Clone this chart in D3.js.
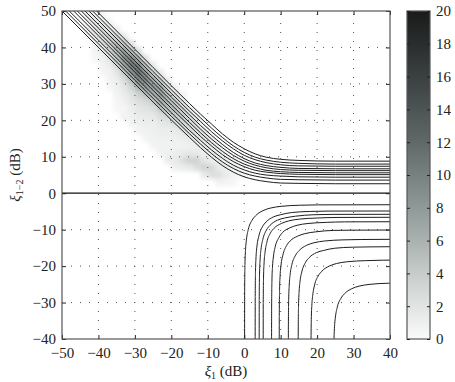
<!DOCTYPE html>
<html>
<head>
<meta charset="utf-8">
<script src="https://cdn.jsdelivr.net/npm/d3@7"></script>
<style>
body { margin: 0; background: #fff; }
text { font-family: "Liberation Serif", "DejaVu Serif", serif; fill: #222; }
</style>
</head>
<body>
<svg id="chart" width="455" height="382"></svg>
<script>
// Tick values
const xTicks = [-50, -40, -30, -20, -10, 0, 10, 20, 30, 40];
const yTicks = [-40, -30, -20, -10, 0, 10, 20, 30, 40, 50];
const cbTicks = [0, 2, 4, 6, 8, 10, 12, 14, 16, 18, 20];

// Upper family of contours: shared x positions, one y series per curve
const upperX = [-50, -40, -30, -20, -15, -12, -9, -6, -3, 0, 3, 6, 10, 15, 25, 40];
const upperY = [
    [50.0, 40.0, 30.0, 20.1, 15.3, 12.5, 9.9, 7.6, 5.8, 4.5, 3.7, 3.2, 2.8, 2.7, 2.6, 2.6],
    [51.0, 41.0, 31.0, 21.1, 16.3, 13.5, 10.9, 8.6, 6.8, 5.5, 4.7, 4.2, 3.8, 3.7, 3.6, 3.6],
    [52.0, 42.0, 32.0, 22.1, 17.2, 14.5, 11.9, 9.6, 7.7, 6.4, 5.5, 5.0, 4.7, 4.5, 4.4, 4.4],
    [53.2, 43.2, 33.2, 23.3, 18.5, 15.6, 13.0, 10.6, 8.7, 7.3, 6.3, 5.8, 5.4, 5.2, 5.1, 5.1],
    [54.2, 44.2, 34.2, 24.3, 19.4, 16.6, 13.9, 11.5, 9.5, 8.0, 7.0, 6.3, 5.9, 5.7, 5.6, 5.6],
    [55.3, 45.3, 35.3, 25.4, 20.5, 17.6, 14.9, 12.5, 10.4, 8.8, 7.7, 7.0, 6.5, 6.3, 6.2, 6.2],
    [56.3, 46.3, 36.3, 26.4, 21.5, 18.6, 15.9, 13.4, 11.2, 9.5, 8.3, 7.6, 7.1, 6.8, 6.7, 6.7],
    [57.4, 47.4, 37.4, 27.4, 22.5, 19.7, 16.9, 14.4, 12.2, 10.4, 9.2, 8.4, 7.8, 7.5, 7.4, 7.4],
    [58.4, 48.4, 38.4, 28.4, 23.5, 20.7, 17.9, 15.3, 13.0, 11.2, 9.9, 9.1, 8.5, 8.2, 8.0, 8.0],
    [59.5, 49.5, 39.5, 29.5, 24.6, 21.7, 19.0, 16.3, 14.0, 12.2, 10.8, 9.9, 9.3, 9.0, 8.8, 8.8]
];

// Lower family of contours: [x, y] points per curve
const lowerCurves = [
    [[0.1, -45], [0.12, -26.6], [0.2, -19.6], [0.35, -15.7], [0.6, -12.8], [1.1, -10.0], [2.1, -7.5], [3.1, -6.2], [5.1, -4.8], [7.1, -4.1], [10.1, -3.6], [15.1, -3.3], [20.1, -3.2], [40, -3.16]],
    [[3.0, -45], [3.02, -28.3], [3.1, -21.3], [3.25, -17.4], [3.5, -14.5], [4.0, -11.8], [5.0, -9.2], [6.0, -7.9], [8.0, -6.5], [10.0, -5.9], [13.0, -5.3], [18.0, -5.0], [23.0, -4.9], [40, -4.88]],
    [[4.1, -45], [4.12, -29.2], [4.2, -22.2], [4.35, -18.3], [4.6, -15.4], [5.1, -12.7], [6.1, -10.1], [7.1, -8.8], [9.1, -7.4], [11.1, -6.8], [14.1, -6.3], [19.1, -5.9], [24.1, -5.8], [40, -5.79]],
    [[5.2, -45], [5.22, -30.0], [5.3, -23.0], [5.45, -19.1], [5.7, -16.3], [6.2, -13.5], [7.2, -10.9], [8.2, -9.6], [10.2, -8.3], [12.2, -7.6], [15.2, -7.1], [20.2, -6.8], [25.2, -6.65], [40, -6.61]],
    [[7.5, -45], [7.52, -31.2], [7.6, -24.2], [7.75, -20.3], [8.0, -17.5], [8.5, -14.7], [9.5, -12.2], [10.5, -10.8], [12.5, -9.5], [14.5, -8.8], [17.5, -8.3], [22.5, -8.0], [27.5, -7.86], [40, -7.82]],
    [[9.6, -45], [9.62, -33.5], [9.7, -26.5], [9.85, -22.6], [10.1, -19.7], [10.6, -17.0], [11.6, -14.4], [12.6, -13.1], [14.6, -11.8], [16.6, -11.1], [19.6, -10.6], [24.6, -10.2], [29.6, -10.14], [40, -10.1]],
    [[12.1, -45], [12.12, -36.1], [12.2, -29.1], [12.35, -25.2], [12.6, -22.3], [13.1, -19.5], [14.1, -17.0], [15.1, -15.7], [17.1, -14.3], [19.1, -13.6], [22.1, -13.1], [27.1, -12.8], [32.1, -12.7], [40, -12.65]],
    [[14.8, -45], [14.82, -38.1], [14.9, -31.1], [15.05, -27.2], [15.3, -24.3], [15.8, -21.6], [16.8, -19.0], [17.8, -17.7], [19.8, -16.3], [21.8, -15.7], [24.8, -15.1], [29.8, -14.8], [34.8, -14.72], [40, -14.68]],
    [[18.3, -45], [18.32, -41.7], [18.4, -34.7], [18.55, -30.8], [18.8, -28.0], [19.3, -25.2], [20.3, -22.7], [21.3, -21.4], [23.3, -20.0], [25.3, -19.3], [28.3, -18.8], [33.3, -18.5], [38.3, -18.37], [40, -18.36]],
    [[24.5, -45], [24.6, -41.0], [24.75, -37.1], [25.0, -34.2], [25.5, -31.4], [26.5, -28.9], [27.5, -27.6], [29.5, -26.2], [31.5, -25.5], [34.5, -25.0], [39.5, -24.7], [40, -24.69]]
];

// 2-D histogram, 2 dB bins: [bin centre x, bin centre y, count]
const heatCells = [
    [-43, 49, 0.9], [-43, 47, 1], [-43, 45, 0.8], [-43, 43, 0.5],
    [-41, 49, 1], [-41, 47, 1.8], [-41, 45, 2], [-41, 43, 1.6], [-41, 41, 1], [-41, 39, 0.6], [-41, 37, 0.4],
    [-39, 49, 0.6], [-39, 47, 1.5], [-39, 45, 2.7], [-39, 43, 3], [-39, 41, 2.4], [-39, 39, 1.5], [-39, 37, 0.9], [-39, 35, 0.6], [-39, 33, 0.4],
    [-37, 47, 0.8], [-37, 45, 2], [-37, 43, 3.6], [-37, 41, 4], [-37, 39, 3.2], [-37, 37, 2], [-37, 35, 1.2], [-37, 33, 0.8], [-37, 31, 0.6], [-37, 29, 0.4],
    [-35, 45, 1.2], [-35, 43, 3], [-35, 41, 5.4], [-35, 39, 6], [-35, 37, 4.8], [-35, 35, 3], [-35, 33, 1.8], [-35, 31, 1.2], [-35, 29, 0.9], [-35, 27, 0.6], [-35, 25, 0.4], [-35, 23, 0.4],
    [-33, 43, 1.8], [-33, 41, 4.5], [-33, 39, 8.1], [-33, 37, 9], [-33, 35, 7.2], [-33, 33, 4.5], [-33, 31, 2.7], [-33, 29, 1.8], [-33, 27, 1.4], [-33, 25, 0.9], [-33, 23, 0.5], [-33, 21, 0.8],
    [-31, 41, 2.2], [-31, 39, 5.5], [-31, 37, 9.9], [-31, 35, 11], [-31, 33, 8.8], [-31, 31, 5.5], [-31, 29, 3.3], [-31, 27, 2.2], [-31, 25, 1.7], [-31, 23, 1.1], [-31, 21, 0.9], [-31, 19, 0.7],
    [-29, 39, 2.4], [-29, 37, 6], [-29, 35, 10.8], [-29, 33, 12], [-29, 31, 9.6], [-29, 29, 6], [-29, 27, 3.6], [-29, 25, 2.4], [-29, 23, 1.8], [-29, 21, 1.4], [-29, 19, 0.9], [-29, 17, 0.6],
    [-27, 37, 2], [-27, 35, 5], [-27, 33, 9], [-27, 31, 10], [-27, 29, 8], [-27, 27, 5], [-27, 25, 3], [-27, 23, 2], [-27, 21, 1.5], [-27, 19, 1.2], [-27, 17, 0.8], [-27, 15, 0.6],
    [-25, 35, 1.6], [-25, 33, 4], [-25, 31, 7.2], [-25, 29, 8], [-25, 27, 6.4], [-25, 25, 4], [-25, 23, 2.4], [-25, 21, 1.6], [-25, 19, 1.2], [-25, 17, 1], [-25, 15, 0.8], [-25, 13, 0.7],
    [-23, 33, 1.6], [-23, 31, 4], [-23, 29, 7.2], [-23, 27, 8], [-23, 25, 6.4], [-23, 23, 4], [-23, 21, 2.4], [-23, 19, 1.6], [-23, 17, 1.2], [-23, 15, 1], [-23, 13, 0.8], [-23, 11, 0.8],
    [-21, 31, 1.2], [-21, 29, 3], [-21, 27, 5.4], [-21, 25, 6], [-21, 23, 4.8], [-21, 21, 3], [-21, 19, 1.8], [-21, 17, 1.2], [-21, 15, 0.9], [-21, 13, 0.8], [-21, 11, 1], [-21, 9, 1.2],
    [-19, 29, 1], [-19, 27, 2.5], [-19, 25, 4.5], [-19, 23, 5], [-19, 21, 4], [-19, 19, 2.5], [-19, 17, 1.5], [-19, 15, 1], [-19, 13, 0.8], [-19, 11, 1.2], [-19, 9, 1.5], [-19, 7, 1],
    [-17, 27, 0.8], [-17, 25, 2], [-17, 23, 3.6], [-17, 21, 4], [-17, 19, 3.2], [-17, 17, 2], [-17, 15, 1.2], [-17, 13, 0.8], [-17, 11, 1.5], [-17, 9, 2.5], [-17, 7, 1.2],
    [-15, 23, 1.5], [-15, 21, 2.7], [-15, 19, 3], [-15, 17, 2.4], [-15, 15, 1.5], [-15, 13, 0.9], [-15, 11, 1.8], [-15, 9, 3.5], [-15, 7, 1.5],
    [-13, 21, 1.2], [-13, 19, 2.2], [-13, 17, 2.5], [-13, 15, 2], [-13, 13, 1.3], [-13, 11, 1.5], [-13, 9, 3.5], [-13, 7, 2.5],
    [-11, 17, 1.8], [-11, 15, 2], [-11, 13, 1.6], [-11, 11, 1.2], [-11, 9, 2], [-11, 7, 3.5], [-11, 5, 1.5],
    [-9, 15, 1.2], [-9, 13, 1.5], [-9, 11, 1.4], [-9, 9, 1.2], [-9, 7, 3], [-9, 5, 2.5],
    [-7, 13, 1], [-7, 11, 1.2], [-7, 9, 1.2], [-7, 7, 1.5], [-7, 5, 2.5], [-7, 3, 0.8],
    [-5, 11, 0.8], [-5, 9, 1], [-5, 7, 1], [-5, 5, 1.5], [-5, 3, 0.6],
    [-3, 9, 0.6], [-3, 7, 0.8], [-3, 5, 0.9], [-3, 3, 0.5],
    [-1, 7, 0.5], [-1, 5, 0.6], [1, 5, 0.4]
];

// colour map of the colour bar (value -> grey)
const cmapValues = [0, 2, 4, 6, 8, 10, 12, 14, 16, 18, 20];
const cmapColors = ["#fafafa", "#e1e4e3", "#c7cccb", "#aab2b0", "#8f9a98", "#77817f", "#606968", "#4c5454", "#3b4041", "#2a2d2e", "#1a1a1a"];

const svg = d3.select('#chart');
const plotL = 62, plotR = 390, plotT = 11, plotB = 339;

const x = d3.scaleLinear().domain([-50, 40]).range([plotL, plotR]);
const y = d3.scaleLinear().domain([-40, 50]).range([plotB, plotT]);
const color = d3.scaleLinear().domain(cmapValues).range(cmapColors);

const defs = svg.append('defs');
defs.append('clipPath').attr('id', 'plotClip')
    .append('rect')
    .attr('x', plotL).attr('y', plotT)
    .attr('width', plotR - plotL).attr('height', plotB - plotT);
defs.append('filter').attr('id', 'soft')
    .attr('x', '-20%').attr('y', '-20%').attr('width', '140%').attr('height', '140%')
    .append('feGaussianBlur').attr('stdDeviation', 2.2);

const plot = svg.append('g').attr('clip-path', 'url(#plotClip)');

// heat map
plot.append('g')
    .attr('filter', 'url(#soft)')
    .selectAll('rect')
    .data(heatCells).enter()
    .append('rect')
    .attr('x', d => x(d[0] - 1))
    .attr('y', d => y(d[1] + 1))
    .attr('width', d => x(d[0] + 1) - x(d[0] - 1))
    .attr('height', d => y(d[1] - 1) - y(d[1] + 1))
    .attr('fill', d => color(d[2]));

// dotted grid
const grid = plot.append('g')
    .attr('stroke', '#555')
    .attr('stroke-width', 1)
    .attr('stroke-dasharray', '1,8');
grid.selectAll('.gx')
    .data(xTicks.slice(1, -1)).enter()
    .append('line')
    .attr('x1', d => x(d)).attr('x2', d => x(d))
    .attr('y1', plotB).attr('y2', plotT);
grid.selectAll('.gy')
    .data(yTicks.slice(1, -1).filter(d => d !== 0)).enter()
    .append('line')
    .attr('y1', d => y(d)).attr('y2', d => y(d))
    .attr('x1', plotL).attr('x2', plotR);

// contour lines
const line = d3.line()
    .x(d => x(d[0]))
    .y(d => y(d[1]))
    .curve(d3.curveMonotoneX);

plot.append('g').selectAll('path')
    .data(upperY.map(ys => ys.map((v, i) => [upperX[i], v])))
    .enter().append('path')
    .attr('d', line)
    .attr('fill', 'none')
    .attr('stroke', '#1e1e1e')
    .attr('stroke-width', 1);

plot.append('g').selectAll('path')
    .data(lowerCurves)
    .enter().append('path')
    .attr('d', line)
    .attr('fill', 'none')
    .attr('stroke', '#1e1e1e')
    .attr('stroke-width', 1);

// zero line
plot.append('line')
    .attr('x1', x(-50)).attr('x2', x(40))
    .attr('y1', y(0)).attr('y2', y(0))
    .attr('stroke', '#111')
    .attr('stroke-width', 1.2);

// axes
function styleAxis(g) {
    g.select('.domain').remove();
    g.selectAll('.tick line').attr('stroke', '#222');
    g.attr('font-family', 'Liberation Serif');
    g.selectAll('text')
        .style('font-family', '"Liberation Serif", "DejaVu Serif", serif')
        .style('font-size', '15px')
        .attr('fill', '#222');
}

svg.append('g')
    .attr('transform', `translate(0, ${plotB})`)
    .call(d3.axisBottom(x).tickValues(xTicks).tickSize(-4).tickPadding(8))
    .call(styleAxis);
svg.append('g')
    .attr('transform', `translate(0, ${plotT})`)
    .call(d3.axisTop(x).tickValues(xTicks).tickSize(-4).tickFormat(''))
    .call(styleAxis);
svg.append('g')
    .attr('transform', `translate(${plotL}, 0)`)
    .call(d3.axisLeft(y).tickValues(yTicks).tickSize(-4).tickPadding(6))
    .call(styleAxis);
svg.append('g')
    .attr('transform', `translate(${plotR}, 0)`)
    .call(d3.axisRight(y).tickValues(yTicks).tickSize(-4).tickFormat(''))
    .call(styleAxis);

svg.append('rect')
    .attr('x', plotL).attr('y', plotT)
    .attr('width', plotR - plotL).attr('height', plotB - plotT)
    .attr('fill', 'none')
    .attr('stroke', '#555')
    .attr('stroke-width', 1.2);

// axis titles
const xt = svg.append('text')
    .attr('x', (plotL + plotR) / 2)
    .attr('y', 376)
    .attr('text-anchor', 'middle')
    .style('font-size', '15px');
xt.append('tspan').style('font-style', 'italic').text('ξ');
xt.append('tspan').attr('dy', 3).style('font-size', '10px').text('1');
xt.append('tspan').attr('dy', -3).text(' (dB)');

const yt = svg.append('text')
    .attr('transform', `translate(20, ${(plotT + plotB) / 2}) rotate(-90)`)
    .attr('text-anchor', 'middle')
    .style('font-size', '15px');
yt.append('tspan').style('font-style', 'italic').text('ξ');
yt.append('tspan').attr('dy', 3).style('font-size', '10px').text('1−2');
yt.append('tspan').attr('dy', -3).text(' (dB)');

// colour bar
const cbLeft = 407, cbRight = 430;
const cb = d3.scaleLinear().domain([0, 20]).range([plotB, plotT]);

const grad = defs.append('linearGradient')
    .attr('id', 'cbGrad')
    .attr('x1', 0).attr('y1', 1).attr('x2', 0).attr('y2', 0);
grad.selectAll('stop')
    .data(cmapValues).enter()
    .append('stop')
    .attr('offset', d => d / 20)
    .attr('stop-color', d => color(d));

svg.append('rect')
    .attr('x', cbLeft).attr('y', plotT)
    .attr('width', cbRight - cbLeft).attr('height', plotB - plotT)
    .attr('fill', 'url(#cbGrad)')
    .attr('stroke', '#555')
    .attr('stroke-width', 1.2);

svg.append('g')
    .attr('transform', `translate(${cbLeft}, 0)`)
    .call(d3.axisLeft(cb).tickValues(cbTicks).tickSize(-3).tickFormat(''))
    .call(styleAxis);
svg.append('g')
    .attr('transform', `translate(${cbRight}, 0)`)
    .call(d3.axisRight(cb).tickValues(cbTicks).tickSize(-3).tickPadding(6))
    .call(styleAxis);
</script>
</body>
</html>
